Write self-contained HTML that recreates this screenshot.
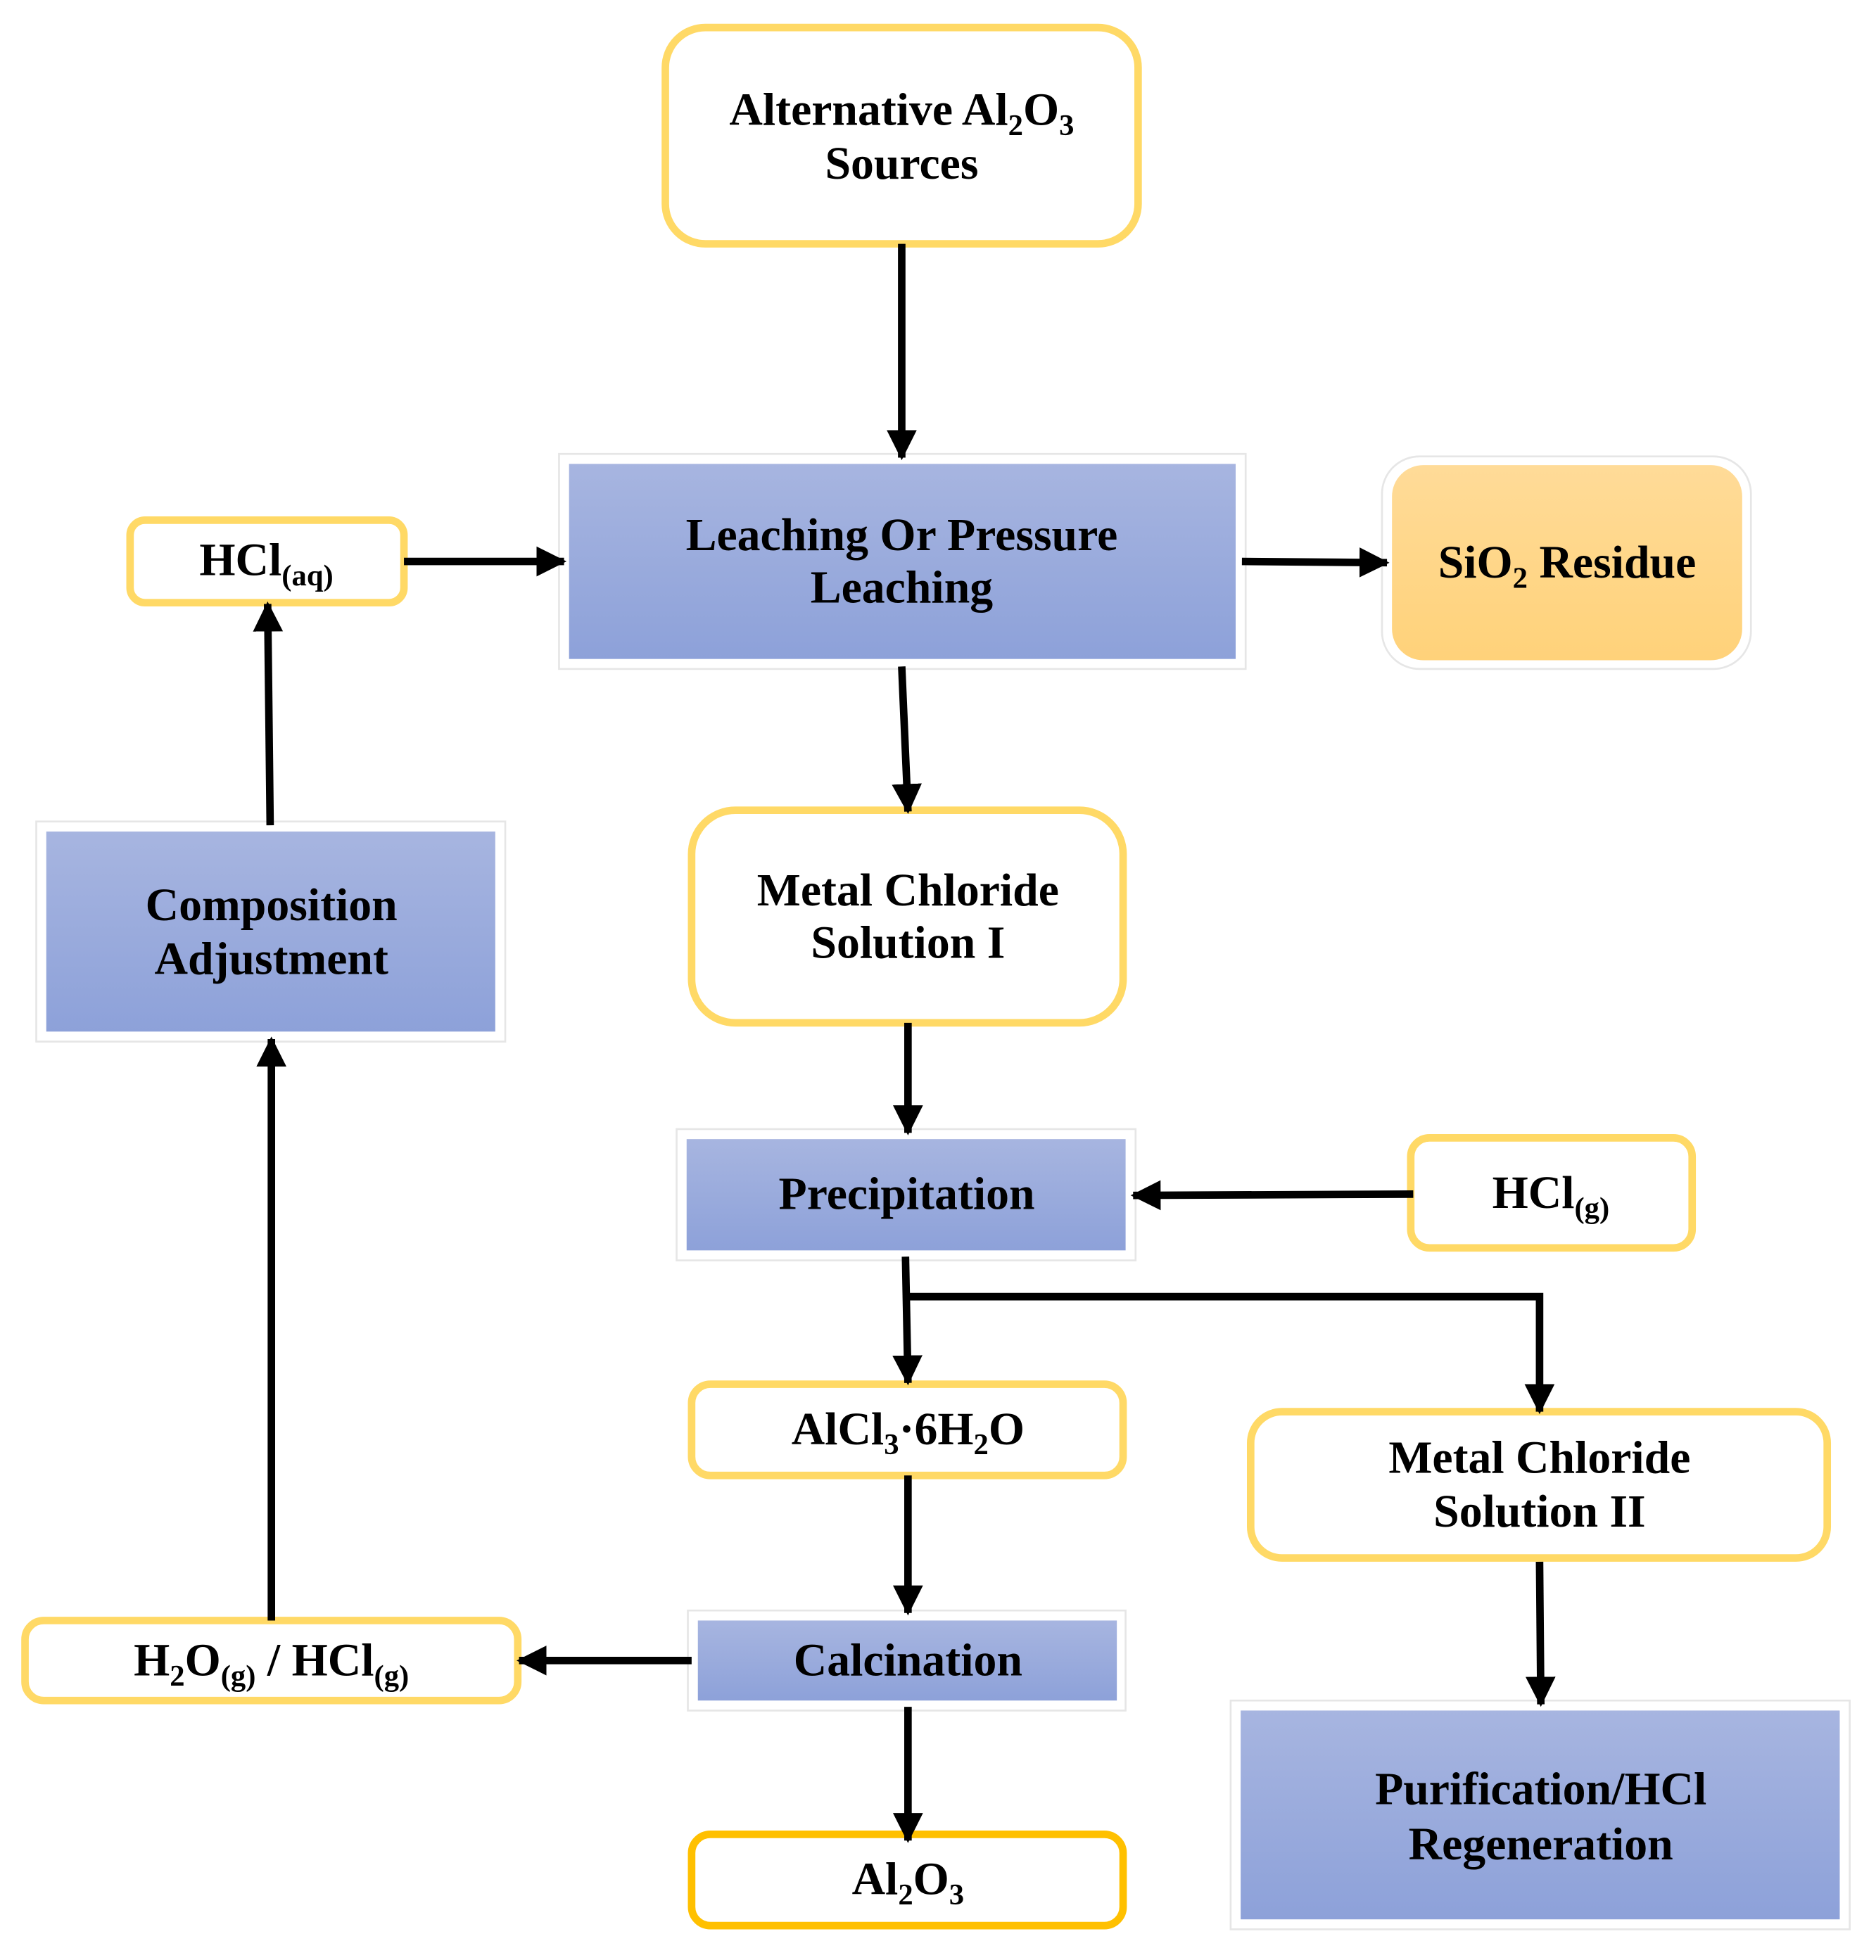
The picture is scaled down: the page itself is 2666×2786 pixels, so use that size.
<!DOCTYPE html>
<html><head><meta charset="utf-8"><style>
html,body{margin:0;padding:0;background:#fff;}
svg{display:block;}
text{font-family:"Liberation Serif",serif;font-weight:bold;font-size:37px;fill:#000;text-anchor:middle;}
.sub{font-size:24px;}
</style></head><body>
<svg width="2666" height="2786" viewBox="0 0 1500 1567.5" xmlns="http://www.w3.org/2000/svg">
<defs>
<linearGradient id="bl" x1="0" y1="0" x2="0" y2="1"><stop offset="0" stop-color="#A7B5E0"/><stop offset="1" stop-color="#8DA1D9"/></linearGradient>
<linearGradient id="or" x1="0" y1="0" x2="0" y2="1"><stop offset="0" stop-color="#FFDB98"/><stop offset="1" stop-color="#FFD27A"/></linearGradient>
<marker id="ah" markerUnits="userSpaceOnUse" markerWidth="26" markerHeight="26" refX="22" refY="12" orient="auto"><path d="M0,0 L24,12 L0,24 Z" fill="#000"/></marker>
</defs>
<g fill="none" stroke="#FFD966" stroke-width="6">
<rect x="532" y="22" width="378" height="173" rx="32"/>
<rect x="104" y="416" width="219" height="66" rx="12"/>
<rect x="553" y="648" width="345" height="170" rx="35"/>
<rect x="1128" y="910" width="225" height="88" rx="15"/>
<rect x="553" y="1107" width="345" height="73" rx="15"/>
<rect x="1000" y="1129" width="461" height="117" rx="25"/>
<rect x="20" y="1296" width="394" height="64" rx="15"/>
<rect x="553" y="1467" width="345" height="73" rx="15" stroke="#FFC000"/>
</g>
<g fill="#fff" stroke="#e6e6e6" stroke-width="1.5">
<rect x="447" y="363" width="549" height="172"/>
<rect x="1105" y="365" width="295" height="170" rx="30"/>
<rect x="541" y="903" width="367" height="105"/>
<rect x="984" y="1360" width="495" height="183"/>
<rect x="550" y="1288" width="350" height="80"/>
<rect x="29" y="657" width="375" height="176"/>
</g>
<rect x="455" y="371" width="533" height="156" fill="url(#bl)"/>
<rect x="1113" y="372" width="280" height="156" rx="25" fill="url(#or)"/>
<rect x="549" y="911" width="351" height="89" fill="url(#bl)"/>
<rect x="992" y="1368" width="479" height="167" fill="url(#bl)"/>
<rect x="558" y="1296" width="335" height="64" fill="url(#bl)"/>
<rect x="37" y="665" width="359" height="160" fill="url(#bl)"/>
<g stroke="#000" stroke-width="6" fill="none" marker-end="url(#ah)">
<line x1="721" y1="195" x2="721" y2="366"/>
<line x1="323" y1="449" x2="451" y2="449"/>
<line x1="993" y1="449" x2="1109" y2="450"/>
<line x1="721" y1="533" x2="726" y2="649"/>
<line x1="726" y1="818" x2="726" y2="906"/>
<line x1="1130" y1="955" x2="906" y2="956"/>
<line x1="724" y1="1005" x2="726" y2="1106"/>
<polyline points="726,1037 1231,1037 1231,1129"/>
<line x1="1231" y1="1249" x2="1232" y2="1363"/>
<line x1="726" y1="1180" x2="726" y2="1290"/>
<line x1="553" y1="1328" x2="415" y2="1328"/>
<line x1="726" y1="1365" x2="726" y2="1472"/>
<line x1="217" y1="1296" x2="217" y2="831"/>
<line x1="216" y1="660" x2="214" y2="483"/>
</g>
<text x="721" y="100">Alternative Al<tspan class="sub" dy="8">2</tspan><tspan dy="-8">O</tspan><tspan class="sub" dy="8">3</tspan></text>
<text x="721" y="143">Sources</text>
<text x="213" y="460">HCl<tspan class="sub" dy="8">(aq)</tspan></text>
<text x="721" y="440">Leaching Or Pressure</text>
<text x="721" y="482">Leaching</text>
<text x="1253" y="462">SiO<tspan class="sub" dy="8">2</tspan><tspan dy="-8"> Residue</tspan></text>
<text x="726" y="724">Metal Chloride</text>
<text x="726" y="766">Solution I</text>
<text x="725" y="967">Precipitation</text>
<text x="1240" y="966">HCl<tspan class="sub" dy="8">(g)</tspan></text>
<text x="726" y="1155">AlCl<tspan class="sub" dy="8">3</tspan><tspan dy="-8">·6H</tspan><tspan class="sub" dy="8">2</tspan><tspan dy="-8">O</tspan></text>
<text x="1231" y="1178">Metal Chloride</text>
<text x="1231" y="1221">Solution II</text>
<text x="1232" y="1443">Purification/HCl</text>
<text x="1232" y="1487">Regeneration</text>
<text x="726" y="1340">Calcination</text>
<text x="217" y="1340">H<tspan class="sub" dy="8">2</tspan><tspan dy="-8">O</tspan><tspan class="sub" dy="8">(g)</tspan><tspan dy="-8"> / HCl</tspan><tspan class="sub" dy="8">(g)</tspan></text>
<text x="726" y="1515">Al<tspan class="sub" dy="8">2</tspan><tspan dy="-8">O</tspan><tspan class="sub" dy="8">3</tspan></text>
<text x="217" y="736">Composition</text>
<text x="217" y="779">Adjustment</text>
</svg>
</body></html>
